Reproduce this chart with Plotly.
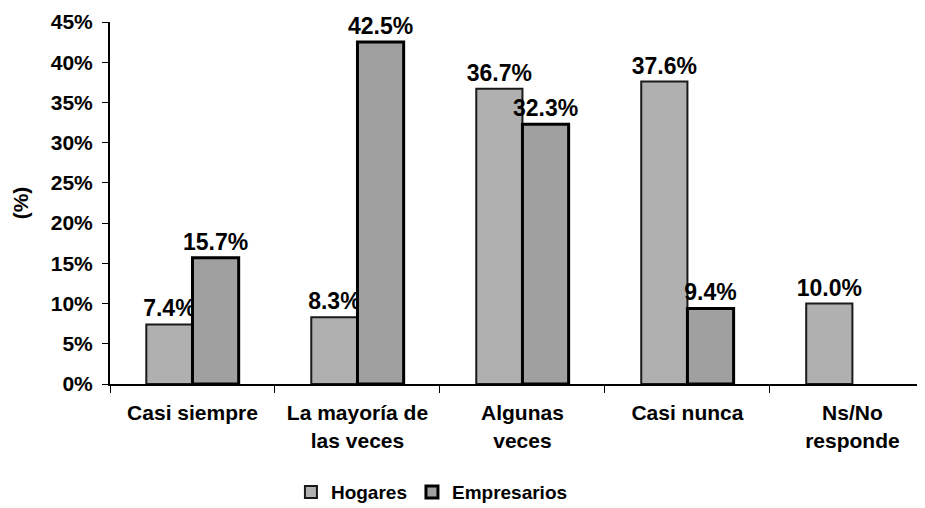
import plotly.graph_objects as go

categories = ["Casi siempre", "La mayoría de<br>las veces", "Algunas<br>veces", "Casi nunca", "Ns/No<br>responde"]
hogares = [7.4, 8.3, 36.7, 37.6, 10.0]
empresarios = [15.7, 42.5, 32.3, 9.4, None]
y_ticks = [0, 5, 10, 15, 20, 25, 30, 35, 40, 45]

FONT = "Liberation Sans, Arial, sans-serif"

def f(size):
    return dict(family=FONT, size=size, color="black", weight="bold")

fig = go.Figure()
fig.add_trace(go.Bar(
    name="Hogares", x=categories, y=hogares,
    marker=dict(color="#b0b0b0", line=dict(color="#1a1a1a", width=2)),
    text=[f"{v:.1f}%" for v in hogares], textposition="outside",
    textfont=f(23), constraintext="none", cliponaxis=False,
))
fig.add_trace(go.Bar(
    name="Empresarios", x=categories, y=empresarios,
    marker=dict(color="#a0a0a0", line=dict(color="#000000", width=3)),
    text=[f"{v:.1f}%" if v is not None else "" for v in empresarios], textposition="outside",
    textfont=f(23), constraintext="none", cliponaxis=False,
))

fig.update_layout(
    width=917, height=500,
    margin=dict(l=102, r=0, t=14, b=124, autoexpand=False),
    paper_bgcolor="white", plot_bgcolor="white",
    barmode="group", bargap=0.44, bargroupgap=0,
    font=f(20),
    showlegend=True,
    legend=dict(orientation="h", x=0.222, xanchor="left", y=-0.246, yanchor="top",
                font=f(19), itemwidth=30, tracegroupgap=0),
)
fig.update_xaxes(
    range=[-0.5, 4.44], showline=True, linecolor="black", linewidth=2,
    ticks="outside", tickson="boundaries", ticklen=7, tickcolor="black",
    tickfont=f(21), ticklabelstandoff=9, automargin=False,
    showgrid=False,
)
fig.update_yaxes(
    range=[0, 45], tickvals=y_ticks, ticktext=[f"{v}%" for v in y_ticks],
    showline=True, linecolor="black", linewidth=2,
    ticks="outside", ticklen=6, tickcolor="black",
    tickfont=f(21), ticklabelstandoff=5, automargin=False,
    showgrid=False, zeroline=False,
    title=dict(text="(%)", font=f(21), standoff=16),
)

fig.write_html("out.html")
